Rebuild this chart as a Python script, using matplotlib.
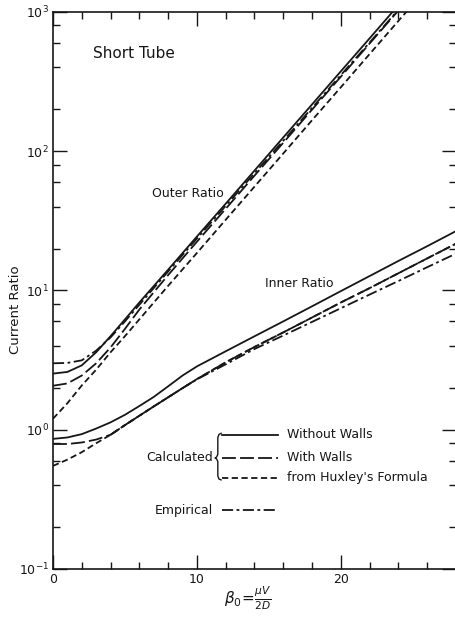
import numpy as np
import matplotlib.pyplot as plt
from matplotlib.ticker import LogLocator, MultipleLocator, FixedLocator, NullFormatter

plt.rcParams.update({
    "font.family": "DejaVu Sans",
    "font.size": 9,
    "lines.scale_dashes": False,
})

# beta_0 values where the curves were sampled
beta_outer = [0, 1, 2, 3, 4, 5, 6, 8, 10, 12, 14, 16, 18, 20, 22, 24, 25]
beta_inner = [0, 1, 2, 3, 4, 5, 6, 7, 8, 9, 10, 12, 14, 16, 18, 20, 22, 24, 26, 28]

# outer ratio
outer_no_walls = [2.53, 2.6, 2.9, 3.6, 4.7, 6.2, 8.2, 14.1, 24.4, 42, 72.6, 125.6, 217, 375, 647, 1120, 1470]
outer_walls = [2.07, 2.15, 2.45, 3.0, 3.9, 5.3, 7.3, 12.9, 22.4, 38.6, 66.8, 115, 199, 343, 594, 1025, 1350]
outer_huxley = [1.2, 1.55, 2.08, 2.7, 3.6, 4.7, 6.2, 10.8, 18.6, 32.2, 55.7, 96.4, 167, 288, 499, 863, 1130]
outer_empirical = [3.0, 3.02, 3.15, 3.7, 4.6, 6.0, 7.9, 13.7, 23.6, 40.5, 69.5, 119, 205, 352, 604, 1040, 1360]

# inner ratio
inner_no_walls = [0.86, 0.88, 0.93, 1.02, 1.13, 1.28, 1.48, 1.72, 2.05, 2.45, 2.85,
                  3.66, 4.69, 6.0, 7.7, 9.9, 12.7, 16.3, 20.8, 26.7]
inner_walls = [0.79, 0.79, 0.81, 0.85, 0.92, 1.08, 1.26, 1.47, 1.71, 1.99, 2.31,
               3.05, 3.93, 5.0, 6.4, 8.2, 10.4, 13.3, 17.0, 21.7]
inner_huxley = [0.55, 0.61, 0.69, 0.80, 0.92, 1.08, 1.26, 1.47, 1.71, 1.99, 2.31,
                3.05, 3.93, 5.0, 6.4, 8.2, 10.4, 13.3, 17.0, 21.7]
beta_inner_emp = [4, 5, 6, 7, 8, 9, 10, 12, 14, 16, 18, 20, 22, 24, 26, 28]
inner_empirical = [0.92, 1.08, 1.26, 1.47, 1.71, 1.99, 2.3, 2.95, 3.8, 4.75, 5.95,
                   7.46, 9.35, 11.7, 14.7, 18.4]

INK = "#161616"
LW = 1.3
STYLES = {
    "solid": "-",
    "walls": (0, (10, 3)),
    "huxley": (0, (4.5, 2.5)),
    "empirical": (0, (8, 2.5, 2, 2.5)),
}

fig = plt.figure(figsize=(4.56, 6.17), dpi=100)
ax = fig.add_axes([0.1162, 0.0778, 0.8838, 0.9028])

ax.plot(beta_outer, outer_no_walls, color=INK, lw=LW, ls=STYLES["solid"])
ax.plot(beta_outer, outer_walls, color=INK, lw=LW, ls=STYLES["walls"])
ax.plot(beta_outer, outer_huxley, color=INK, lw=LW, ls=STYLES["huxley"])
ax.plot(beta_outer, outer_empirical, color=INK, lw=LW, ls=STYLES["empirical"])

ax.plot(beta_inner, inner_no_walls, color=INK, lw=LW, ls=STYLES["solid"])
ax.plot(beta_inner, inner_walls, color=INK, lw=LW, ls=STYLES["walls"])
ax.plot(beta_inner, inner_huxley, color=INK, lw=LW, ls=STYLES["huxley"])
ax.plot(beta_inner_emp, inner_empirical, color=INK, lw=LW, ls=STYLES["empirical"])

ax.set_yscale("log")
ax.set_xlim(0, 28)
ax.set_ylim(0.1, 1000)

ax.xaxis.set_major_locator(FixedLocator([0, 10, 20]))
ax.xaxis.set_minor_locator(MultipleLocator(2))
ax.yaxis.set_major_locator(LogLocator(base=10))
ax.yaxis.set_minor_locator(LogLocator(base=10, subs=[2, 4, 6, 8]))
ax.yaxis.set_minor_formatter(NullFormatter())

ax.tick_params(which="both", direction="in", top=True, right=True, colors=INK, width=1.0)
ax.tick_params(which="major", length=10, pad=3, labelsize=9)
ax.tick_params(which="minor", length=5)
for side in ["left", "bottom", "top"]:
    ax.spines[side].set_linewidth(1.2)
    ax.spines[side].set_color(INK)
ax.spines["right"].set_visible(False)

ax.set_ylabel("Current Ratio", fontsize=9.5, color=INK)
ax.yaxis.set_label_coords(-0.077, 0.465)
ax.set_xlabel(r"$\beta_0\!=\!\frac{\mu V}{2D}$", fontsize=11, color=INK)
ax.xaxis.set_label_coords(0.484, -0.028)

ax.text(0.099, 0.926, "Short Tube", transform=ax.transAxes, fontsize=11,
        ha="left", va="center", color=INK)
ax.text(0.246, 0.675, "Outer Ratio", transform=ax.transAxes, fontsize=9,
        ha="left", va="center", color=INK)
ax.text(0.526, 0.513, "Inner Ratio", transform=ax.transAxes, fontsize=9,
        ha="left", va="center", color=INK)

# hand-made key: brace for the calculated curves, separate empirical entry
rows = [(0.2406, "solid", "Without Walls"),
        (0.1993, "walls", "With Walls"),
        (0.1634, "huxley", "from Huxley's Formula")]
for y, key, label in rows:
    ax.plot([0.419, 0.558], [y, y], transform=ax.transAxes, color=INK, lw=LW,
            ls=STYLES[key], clip_on=False)
    ax.text(0.581, y, label, transform=ax.transAxes, fontsize=9,
            ha="left", va="center", color=INK)

bx = [0.417, 0.412, 0.409, 0.409, 0.406, 0.402, 0.406, 0.409, 0.409, 0.412, 0.417]
by = [0.2436, 0.2416, 0.236, 0.206, 0.201, 0.1993, 0.1976, 0.193, 0.167, 0.1614, 0.1600]
ax.plot(bx, by, transform=ax.transAxes, color=INK, lw=1.0)
ax.text(0.397, 0.1993, "Calculated", transform=ax.transAxes, fontsize=9,
        ha="right", va="center", color=INK)

ax.plot([0.419, 0.558], [0.1059, 0.1059], transform=ax.transAxes, color=INK,
        lw=LW, ls=STYLES["empirical"])
ax.text(0.397, 0.1059, "Empirical", transform=ax.transAxes, fontsize=9,
        ha="right", va="center", color=INK)

fig.savefig("out.png", dpi=100)
plt.close(fig)
